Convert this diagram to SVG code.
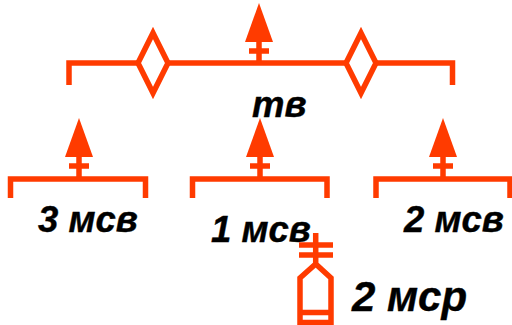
<svg xmlns="http://www.w3.org/2000/svg" width="512" height="325" viewBox="0 0 512 325">
<style>
.l{fill:none;stroke:#ff3b00;stroke-width:5.5;stroke-linejoin:miter}
.f{fill:#ff3b00}
.t{font-family:"Liberation Sans",Arial,sans-serif;font-weight:bold;font-style:italic;fill:#000;stroke:#000;stroke-width:.4}
</style>
<defs>
<g id="arrow">
<polygon class="f" points="0,0 14,39 -14,39"/>
<path class="l" d="M0,39V59M-10,48H10"/>
</g>
</defs>
<rect width="512" height="325" fill="#fff"/>
<g id="connectors">
<path class="l" d="M69,85V63H138M168,63H346M376,63H452.500V85"/>
</g>
<g id="node-tv">
<path class="l" d="M153,33L168,63L153,93L138,63Z"/>
<path class="l" d="M361,33L376,63L361,93L346,63Z"/>
<use href="#arrow" x="259" y="3"/>
<text class="t" x="252" y="117" font-size="36.500">тв</text>
</g>
<g id="node-3msv">
<path class="l" d="M10.500,198V179H145.500V198"/>
<use href="#arrow" x="79" y="118"/>
<text class="t" x="38" y="232" font-size="36.500">3 мсв</text>
</g>
<g id="node-1msv">
<path class="l" d="M192.500,198V179H327V198"/>
<use href="#arrow" x="260" y="118"/>
<text class="t" x="211" y="242" font-size="36.500">1 мсв</text>
</g>
<g id="node-2msv">
<path class="l" d="M376,198V179H510V198"/>
<use href="#arrow" x="443" y="118"/>
<text class="t" x="404" y="232" font-size="36.500">2 мсв</text>
</g>
<g id="node-2msr">
<path class="l" d="M300,325V278L315.700,264L331,278V325M300,312.500H331M300,322.500H331M315.700,233V264M299,245H333M299,255H333"/>
<text class="t" x="352" y="311" font-size="42">2 мср</text>
</g>
</svg>
